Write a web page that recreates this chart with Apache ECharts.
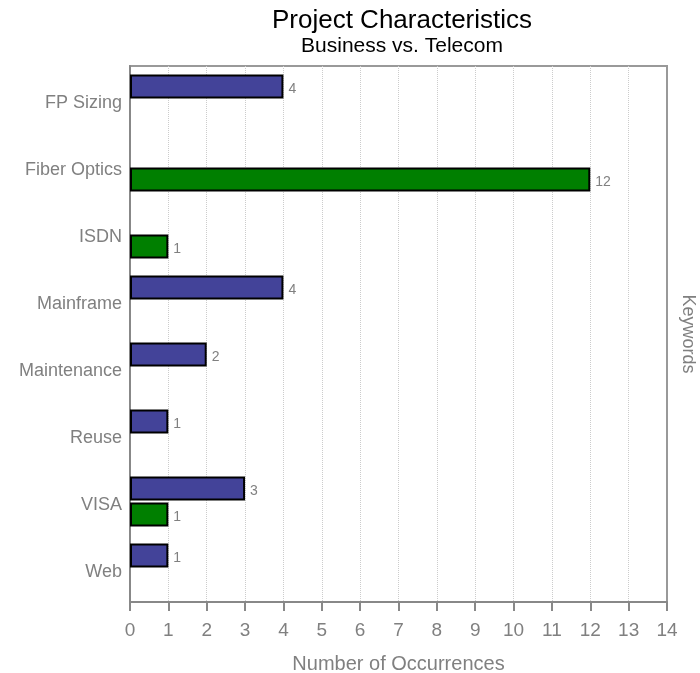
<!DOCTYPE html>
<html>
<head>
<meta charset="utf-8">
<script src="https://cdn.jsdelivr.net/npm/echarts@6/dist/echarts.min.js"></script>
<style>
  html, body { margin: 0; padding: 0; background: #fff; }
  #chart { width: 700px; height: 673px; }
</style>
</head>
<body>
<div id="chart"></div>
<script>
const categories = ["FP Sizing", "Fiber Optics", "ISDN", "Mainframe", "Maintenance", "Reuse", "VISA", "Web"];
const business = [4, null, null, 4, 2, 1, 3, 1];
const telecom = [null, 12, 1, null, null, null, 1, null];
const xTicks = [0, 14, 1]; // min, max, step

const font = "'Liberation Sans Narrow', 'Arial Narrow', 'Liberation Sans', sans-serif";
const gray = "#808080";

const chart = echarts.init(document.getElementById("chart"));

const barLabel = {
  show: true,
  position: "right",
  distance: 5,
  offset: [0, 3],
  color: gray,
  fontSize: 14,
  fontFamily: font,
};

const option = {
  backgroundColor: "#fff",
  animation: false,
  title: {
    text: "Project Characteristics",
    subtext: "Business vs. Telecom",
    left: 397,
    textAlign: "center",
    top: 3,
    itemGap: 2,
    textStyle: { color: "#000", fontSize: 26, fontWeight: "normal", fontFamily: font },
    subtextStyle: { color: "#000", fontSize: 21, fontFamily: font },
  },
  grid: {
    left: 130,
    right: 33,
    top: 66,
    bottom: 71,
    outerBoundsMode: "none",
    containLabel: false,
    show: true,
    borderColor: "#999",
    borderWidth: 2,
    backgroundColor: "#fff",
  },
  xAxis: {
    type: "value",
    min: xTicks[0],
    max: xTicks[1],
    interval: xTicks[2],
    name: "Number of Occurrences",
    nameLocation: "middle",
    nameGap: 52,
    nameTextStyle: { color: gray, fontSize: 20, fontFamily: font },
    axisLine: { show: true, lineStyle: { color: "#888", width: 2 } },
    axisTick: { show: true, length: 9, lineStyle: { color: "#888", width: 2 } },
    axisLabel: { color: gray, fontSize: 19, fontFamily: font, margin: 19 },
    splitLine: { show: true, lineStyle: { color: "#ccc", type: "dotted", width: 1 } },
  },
  yAxis: [
    {
      type: "category",
      data: categories,
      inverse: true,
      axisLine: { show: true, lineStyle: { color: "#888", width: 2 } },
      axisTick: { show: false },
      axisLabel: {
        margin: 8,
        formatter: (v) => "{c|" + v + "}",
        rich: { c: { color: gray, fontSize: 18, fontFamily: font, padding: [7, 0, 0, 0] } },
      },
    },
    {
      type: "category",
      data: categories,
      inverse: true,
      position: "right",
      name: "Keywords",
      nameLocation: "middle",
      nameRotate: -90,
      nameGap: 12,
      nameTextStyle: { color: gray, fontSize: 18, fontFamily: font },
      axisLine: { show: true, lineStyle: { color: "#999", width: 2 } },
      axisTick: { show: false },
      axisLabel: { show: false },
    },
  ],
  series: [
    {
      name: "Business",
      type: "bar",
      data: business,
      barWidth: 24,
      barGap: "8%",
      itemStyle: { color: "#434399", borderColor: "#000", borderWidth: 2 },
      label: barLabel,
    },
    {
      name: "Telecom",
      type: "bar",
      data: telecom,
      barWidth: 24,
      barGap: "8%",
      itemStyle: { color: "#007f00", borderColor: "#000", borderWidth: 2 },
      label: barLabel,
    },
  ],
};

chart.setOption(option);
</script>
</body>
</html>
